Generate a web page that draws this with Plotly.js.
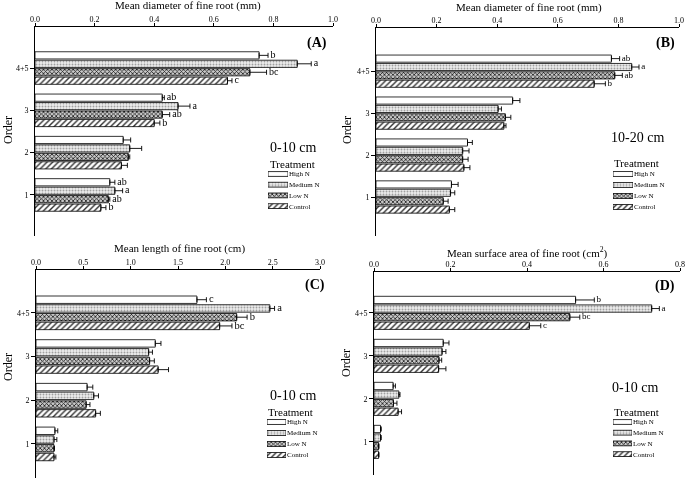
<!DOCTYPE html>
<html>
<head>
<meta charset="utf-8">
<script src="https://cdn.plot.ly/plotly-3.0.1.min.js"></script>
<style>html,body{margin:0;padding:0;background:#fff;}#chart{width:685px;height:491px;filter:grayscale(100%);}</style>
</head>
<body>
<div id="chart"></div>
<script>
// ---------- DATA ----------
var orderLabels = ['1', '2', '3', '4+5'];
var orderIndex = [0, 1, 2, 3];
var treatments = ['High N', 'Medium N', 'Low N', 'Control'];

// (A) Mean diameter of fine root (mm), 0-10 cm
var highN_A = [0.251, 0.296, 0.427, 0.752];
var highN_A_err = [0.017, 0.025, 0.007, 0.030];
var medN_A = [0.268, 0.318, 0.480, 0.880];
var medN_A_err = [0.026, 0.040, 0.040, 0.047];
var lowN_A = [0.246, 0.313, 0.427, 0.721];
var lowN_A_err = [0.005, 0.005, 0.025, 0.056];
var ctrl_A = [0.221, 0.290, 0.400, 0.646];
var ctrl_A_err = [0.017, 0.020, 0.019, 0.015];
var highN_A_let = ['ab', '', 'ab', 'b'];
var medN_A_let = ['a', '', 'a', 'a'];
var lowN_A_let = ['ab', '', 'ab', 'bc'];
var ctrl_A_let = ['b', '', 'b', 'c'];

// (B) Mean diameter of fine root (mm), 10-20 cm
var highN_B = [0.249, 0.302, 0.451, 0.777];
var highN_B_err = [0.022, 0.016, 0.024, 0.027];
var medN_B = [0.246, 0.286, 0.403, 0.844];
var medN_B_err = [0.014, 0.021, 0.011, 0.024];
var lowN_B = [0.222, 0.286, 0.427, 0.788];
var lowN_B_err = [0.016, 0.018, 0.018, 0.025];
var ctrl_B = [0.242, 0.290, 0.422, 0.720];
var ctrl_B_err = [0.018, 0.020, 0.007, 0.037];
var highN_B_let = ['', '', '', 'ab'];
var medN_B_let = ['', '', '', 'a'];
var lowN_B_let = ['', '', '', 'ab'];
var ctrl_B_let = ['', '', '', 'b'];

// (C) Mean length of fine root (cm), 0-10 cm
var highN_C = [0.20, 0.54, 1.26, 1.70];
var highN_C_err = [0.03, 0.06, 0.06, 0.10];
var medN_C = [0.19, 0.61, 1.19, 2.47];
var medN_C_err = [0.03, 0.05, 0.04, 0.05];
var lowN_C = [0.19, 0.53, 1.20, 2.12];
var lowN_C_err = [0.005, 0.04, 0.05, 0.11];
var ctrl_C = [0.19, 0.63, 1.29, 1.94];
var ctrl_C_err = [0.02, 0.05, 0.11, 0.13];
var highN_C_let = ['', '', '', 'c'];
var medN_C_let = ['', '', '', 'a'];
var lowN_C_let = ['', '', '', 'b'];
var ctrl_C_let = ['', '', '', 'bc'];

// (D) Mean surface area of fine root (cm2), 0-10 cm
var highN_D = [0.017, 0.050, 0.181, 0.527];
var highN_D_err = [0.002, 0.006, 0.015, 0.049];
var medN_D = [0.017, 0.065, 0.178, 0.726];
var medN_D_err = [0.002, 0.003, 0.010, 0.020];
var lowN_D = [0.012, 0.051, 0.170, 0.512];
var lowN_D_err = [0.001, 0.009, 0.007, 0.026];
var ctrl_D = [0.012, 0.063, 0.169, 0.406];
var ctrl_D_err = [0.001, 0.009, 0.019, 0.030];
var highN_D_let = ['', '', '', 'b'];
var medN_D_let = ['', '', '', 'a'];
var lowN_D_let = ['', '', '', 'bc'];
var ctrl_D_let = ['', '', '', 'c'];

// ---------- STYLE ----------
var W = 685, H = 491;
function px(x) { return x / W; }
function py(y) { return 1 - y / H; }
var FONT = 'Liberation Serif, Times New Roman, serif';

var patterns = [
  {color: '#ffffff', pattern: {shape: '', bgcolor: '#ffffff', fgcolor: '#000'}},
  {color: '#e6e6e6', pattern: {shape: '.', bgcolor: '#ececec', fgcolor: '#a0a0a0', size: 3, solidity: 0.3, fillmode: 'replace'}},
  {color: '#b0b0b0', pattern: {shape: 'x', bgcolor: '#c8c8c8', fgcolor: '#1a1a1a', size: 3, solidity: 0.45, fillmode: 'replace'}},
  {color: '#ffffff', pattern: {shape: '/', bgcolor: '#ffffff', fgcolor: '#303030', size: 4, solidity: 0.35, fillmode: 'replace'}}
];
var centers = [0.3, 0.1, -0.1, -0.3];
var barW = 0.17;

var traces = [];
function addPanel(xa, ya, series, errs, lets, letSize) {
  for (var i = 0; i < 4; i++) {
    traces.push({
      type: 'bar', orientation: 'h', xaxis: xa, yaxis: ya,
      y: orderIndex, x: series[i], name: treatments[i], showlegend: false,
      width: barW, offset: centers[i] - barW / 2,
      marker: {color: patterns[i].color, pattern: patterns[i].pattern, line: {color: '#000', width: 0.8}},
      error_x: {type: 'data', symmetric: false, array: errs[i], arrayminus: errs[i].map(function(){return 0;}), color: '#000', thickness: 0.9, width: 2.5},
      hoverinfo: 'skip'
    });
    traces.push({
      type: 'scatter', mode: 'text', xaxis: xa, yaxis: ya, showlegend: false,
      x: series[i].map(function(v, k) { return v + errs[i][k]; }),
      y: orderIndex.map(function(c) { return c + centers[i]; }),
      text: lets[i].map(function(s) { return s ? '\u00a0' + s : ''; }),
      textposition: 'middle right', cliponaxis: false,
      textfont: {family: FONT, size: letSize, color: '#000'}, hoverinfo: 'skip'
    });
  }
}
addPanel('x', 'y', [highN_A, medN_A, lowN_A, ctrl_A], [highN_A_err, medN_A_err, lowN_A_err, ctrl_A_err], [highN_A_let, medN_A_let, lowN_A_let, ctrl_A_let], 10);
addPanel('x2', 'y2', [highN_B, medN_B, lowN_B, ctrl_B], [highN_B_err, medN_B_err, lowN_B_err, ctrl_B_err], [highN_B_let, medN_B_let, lowN_B_let, ctrl_B_let], 9);
addPanel('x3', 'y3', [highN_C, medN_C, lowN_C, ctrl_C], [highN_C_err, medN_C_err, lowN_C_err, ctrl_C_err], [highN_C_let, medN_C_let, lowN_C_let, ctrl_C_let], 10.5);
addPanel('x4', 'y4', [highN_D, medN_D, lowN_D, ctrl_D], [highN_D_err, medN_D_err, lowN_D_err, ctrl_D_err], [highN_D_let, medN_D_let, lowN_D_let, ctrl_D_let], 9);

// legend swatches (one mini subplot per panel)
var legendPos = [
  {n: 5, x0: 268, x1: 288, y0: 174, dy: 10.7, tx: 268, ty: 164},
  {n: 6, x0: 613, x1: 633, y0: 174, dy: 11.0, tx: 612, ty: 163},
  {n: 7, x0: 267, x1: 286, y0: 422, dy: 11.0, tx: 266, ty: 412},
  {n: 8, x0: 613, x1: 632, y0: 422, dy: 10.7, tx: 612, ty: 412}
];
var swatchY = [3, 2, 1, 0];
legendPos.forEach(function(L) {
  for (var i = 0; i < 4; i++) {
    traces.push({
      type: 'bar', orientation: 'h', xaxis: 'x' + L.n, yaxis: 'y' + L.n, showlegend: false,
      y: [swatchY[i]], x: [1], width: 0.45,
      marker: {color: patterns[i].color, pattern: patterns[i].pattern, line: {color: '#000', width: 0.8}},
      hoverinfo: 'skip'
    });
  }
});

function xAxis(dom, rng, dtick, anchor) {
  return {domain: dom, range: rng, dtick: dtick, tick0: 0, tickformat: '.1f', side: 'top', anchor: anchor,
    showline: true, linecolor: '#000', linewidth: 1, ticks: 'outside', ticklen: 3, tickwidth: 1, tickcolor: '#000',
    ticklabelstandoff: -2,
    showgrid: false, zeroline: false, tickfont: {family: FONT, size: 8, color: '#000'}, fixedrange: true};
}
function yAxis(dom, rng, anchor) {
  return {domain: dom, range: rng, anchor: anchor, tickvals: orderIndex, ticktext: orderLabels,
    showline: true, linecolor: '#000', linewidth: 1, ticks: 'outside', ticklen: 4, tickwidth: 1, tickcolor: '#000',
    showgrid: false, zeroline: false, tickfont: {family: FONT, size: 8, color: '#000'}, fixedrange: true};
}

var layout = {
  width: W, height: H, margin: {l: 0, r: 0, t: 0, b: 0},
  paper_bgcolor: '#fff', plot_bgcolor: 'rgba(0,0,0,0)',
  barmode: 'overlay', showlegend: false,
  font: {family: FONT, color: '#000'},
  xaxis: xAxis([px(35), px(333)], [0, 1.0], 0.2, 'y'),
  yaxis: yAxis([py(236), py(27)], [-0.97, 3.97], 'x'),
  xaxis2: xAxis([px(376), px(679)], [0, 1.0], 0.2, 'y2'),
  yaxis2: yAxis([py(236), py(28)], [-0.93, 4.03], 'x2'),
  xaxis3: xAxis([px(36), px(320)], [0, 3.0], 0.5, 'y3'),
  yaxis3: yAxis([py(478), py(270)], [-0.78, 3.98], 'x3'),
  xaxis4: xAxis([px(374), px(680)], [0, 0.8], 0.2, 'y4'),
  yaxis4: yAxis([py(475), py(272)], [-0.77, 3.95], 'x4'),
  annotations: []
};
legendPos.forEach(function(L) {
  var top = L.y0 - L.dy / 2, bot = L.y0 + 3.5 * L.dy;
  layout['xaxis' + L.n] = {domain: [px(L.x0), px(L.x1)], range: [0, 1], visible: false, anchor: 'y' + L.n, fixedrange: true};
  layout['yaxis' + L.n] = {domain: [py(bot), py(top)], range: [-0.5, 3.5], anchor: 'x' + L.n, side: 'right',
    tickvals: swatchY, ticktext: treatments, showline: false, showgrid: false, zeroline: false, ticks: '',
    tickfont: {family: FONT, size: 7, color: '#000'}, fixedrange: true};
  layout.annotations.push({text: 'Treatment', xref: 'paper', yref: 'paper', x: px(L.tx), y: py(L.ty),
    xanchor: 'left', yanchor: 'middle', showarrow: false, font: {family: FONT, size: 11, color: '#000'}});
});

function ann(text, x, y, size, opts) {
  var a = {text: text, xref: 'paper', yref: 'paper', x: px(x), y: py(y), xanchor: 'center', yanchor: 'middle',
    showarrow: false, font: {family: FONT, size: size, color: '#000'}};
  for (var k in opts) a[k] = opts[k];
  layout.annotations.push(a);
}
// axis titles
ann('Mean diameter of fine root (mm)', 188, 6, 11);
ann('Mean diameter of fine root (mm)', 529, 7, 11);
ann('Mean length of fine root (cm)', 179, 249, 11);
ann('Mean surface area of fine root (cm<sup>2</sup>)', 527, 252, 11);
ann('Order', 8, 130, 12, {textangle: -90});
ann('Order', 347, 130, 12, {textangle: -90});
ann('Order', 8, 367, 12, {textangle: -90});
ann('Order', 346, 363, 12, {textangle: -90});
// panel labels
ann('<b>(A)</b>', 317, 43, 14);
ann('<b>(B)</b>', 665, 43, 14);
ann('<b>(C)</b>', 315, 285, 14);
ann('<b>(D)</b>', 665, 286, 14);
// depth labels
ann('0-10 cm', 268, 147, 14, {xanchor: 'left'});
ann('10-20 cm', 609, 137, 14, {xanchor: 'left'});
ann('0-10 cm', 268, 395, 14, {xanchor: 'left'});
ann('0-10 cm', 610, 387, 14, {xanchor: 'left'});

Plotly.newPlot('chart', traces, layout, {staticPlot: true, displayModeBar: false});
</script>
</body>
</html>
